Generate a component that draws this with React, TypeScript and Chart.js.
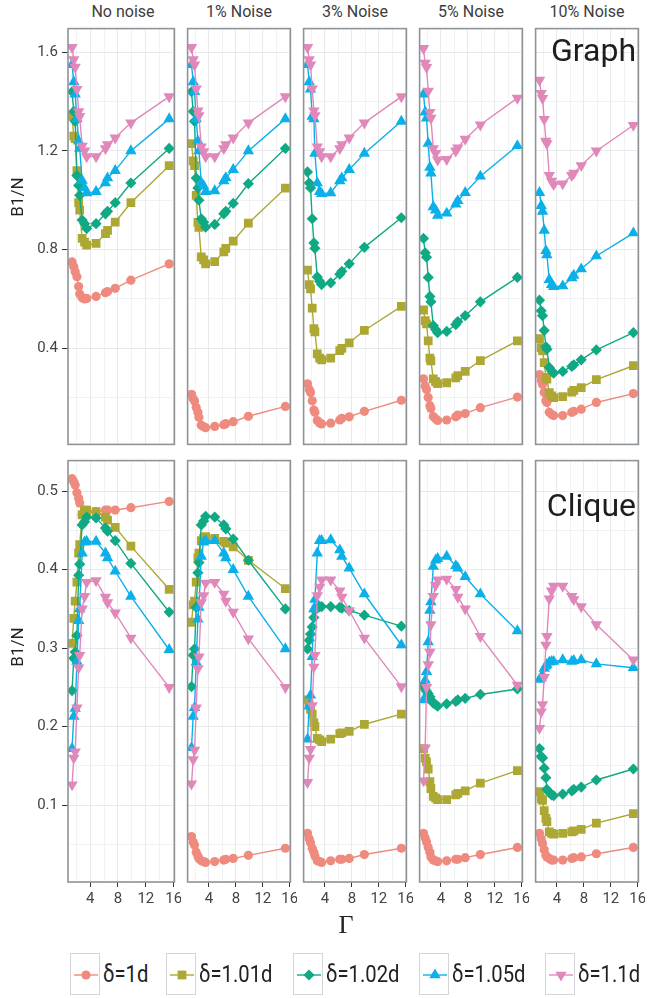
import React, { useEffect, useRef } from 'react';
import { Chart, registerables } from 'chart.js';

Chart.register(...registerables);

// Γ values shared by every curve
const GAMMA = [1.4, 1.65, 1.85, 2.1, 2.35, 2.5, 2.85, 3.2, 3.5, 4.85, 6.2, 6.5, 7.6, 9.85, 15.35];

const NOISE_LABELS = ['No noise', '1% Noise', '3% Noise', '5% Noise', '10% Noise'];
const SERIES_LABELS = ['δ=1d', 'δ=1.01d', 'δ=1.02d', 'δ=1.05d', 'δ=1.1d'];
const SERIES_COLORS = ['#EF8A7E', '#ADA833', '#10A984', '#0CB0E8', '#E188BB'];
const ROW_NAMES = ['Graph', 'Clique'];

// Graph model: each δ holds one curve per noise level (No noise, 1%, 3%, 5%, 10%)
const GRAPH_DELTA_1 = [
  [0.75, 0.73, 0.71, 0.69, 0.65, 0.62, 0.605, 0.6, 0.602, 0.61, 0.625, 0.63, 0.643, 0.676, 0.742],
  [0.213, 0.195, 0.186, 0.16, 0.14, 0.12, 0.088, 0.082, 0.078, 0.083, 0.09, 0.094, 0.102, 0.124, 0.164],
  [0.256, 0.233, 0.22, 0.187, 0.149, 0.14, 0.107, 0.097, 0.093, 0.096, 0.109, 0.116, 0.122, 0.144, 0.189],
  [0.276, 0.247, 0.233, 0.2, 0.167, 0.156, 0.123, 0.114, 0.107, 0.109, 0.122, 0.129, 0.135, 0.159, 0.202],
  [0.293, 0.269, 0.253, 0.22, 0.187, 0.18, 0.14, 0.131, 0.127, 0.127, 0.14, 0.144, 0.153, 0.18, 0.216],
];
const GRAPH_DELTA_101 = [
  [1.34, 1.26, 1.25, 1.12, 0.99, 0.96, 0.845, 0.83, 0.818, 0.825, 0.865, 0.878, 0.911, 0.99, 1.14],
  [1.23, 1.16, 1.14, 1.02, 0.91, 0.89, 0.77, 0.758, 0.742, 0.751, 0.791, 0.805, 0.834, 0.907, 1.049],
  [0.717, 0.658, 0.641, 0.563, 0.479, 0.466, 0.377, 0.36, 0.353, 0.36, 0.39, 0.399, 0.422, 0.472, 0.57],
  [0.555, 0.512, 0.499, 0.43, 0.36, 0.349, 0.276, 0.264, 0.256, 0.26, 0.28, 0.289, 0.306, 0.35, 0.43],
  [0.439, 0.402, 0.389, 0.342, 0.282, 0.275, 0.22, 0.207, 0.2, 0.204, 0.222, 0.229, 0.24, 0.273, 0.329],
];
const GRAPH_DELTA_102 = [
  [1.44, 1.36, 1.32, 1.1, 1.06, 1.02, 0.92, 0.905, 0.885, 0.905, 0.945, 0.955, 0.99, 1.07, 1.21],
  [1.44, 1.36, 1.32, 1.09, 1.05, 1.0, 0.925, 0.911, 0.891, 0.902, 0.945, 0.955, 0.987, 1.067, 1.21],
  [1.115, 1.07, 1.05, 0.925, 0.827, 0.805, 0.689, 0.672, 0.658, 0.665, 0.7, 0.712, 0.742, 0.809, 0.929],
  [0.845, 0.787, 0.769, 0.687, 0.61, 0.588, 0.492, 0.476, 0.463, 0.468, 0.496, 0.508, 0.532, 0.588, 0.687],
  [0.595, 0.552, 0.532, 0.472, 0.406, 0.396, 0.322, 0.308, 0.299, 0.306, 0.326, 0.333, 0.353, 0.393, 0.463],
];
const GRAPH_DELTA_105 = [
  [1.55, 1.48, 1.43, 1.33, 1.24, 1.21, 1.08, 1.05, 1.03, 1.035, 1.07, 1.09, 1.12, 1.2, 1.33],
  [1.55, 1.48, 1.44, 1.33, 1.24, 1.2, 1.071, 1.058, 1.035, 1.038, 1.078, 1.091, 1.124, 1.2, 1.33],
  [1.55, 1.48, 1.45, 1.34, 1.33, 1.19, 1.07, 1.035, 1.027, 1.03, 1.078, 1.09, 1.124, 1.19, 1.32],
  [1.43, 1.357, 1.333, 1.23, 1.133, 1.11, 0.973, 0.96, 0.938, 0.947, 0.984, 0.998, 1.031, 1.097, 1.221],
  [1.031, 0.978, 0.955, 0.878, 0.795, 0.778, 0.678, 0.658, 0.649, 0.652, 0.685, 0.695, 0.721, 0.774, 0.867],
];
const GRAPH_DELTA_110 = [
  [1.62, 1.57, 1.54, 1.45, 1.36, 1.34, 1.22, 1.2, 1.177, 1.177, 1.21, 1.226, 1.253, 1.314, 1.42],
  [1.62, 1.57, 1.549, 1.452, 1.363, 1.343, 1.217, 1.197, 1.177, 1.177, 1.21, 1.226, 1.253, 1.314, 1.42],
  [1.62, 1.57, 1.549, 1.452, 1.363, 1.343, 1.217, 1.197, 1.177, 1.177, 1.21, 1.226, 1.253, 1.314, 1.42],
  [1.616, 1.556, 1.539, 1.443, 1.357, 1.333, 1.21, 1.19, 1.164, 1.166, 1.2, 1.213, 1.248, 1.306, 1.414],
  [1.487, 1.434, 1.413, 1.328, 1.24, 1.23, 1.101, 1.078, 1.064, 1.067, 1.101, 1.11, 1.141, 1.2, 1.304],
];

// Clique model, same layout
const CLIQUE_DELTA_1 = [
  [0.516, 0.512, 0.508, 0.498, 0.491, 0.485, 0.47, 0.471, 0.472, 0.474, 0.476, 0.476, 0.476, 0.479, 0.487],
  [0.06, 0.053, 0.049, 0.04, 0.035, 0.032, 0.029, 0.028, 0.027, 0.028, 0.03, 0.031, 0.032, 0.036, 0.045],
  [0.064, 0.057, 0.052, 0.045, 0.04, 0.035, 0.029, 0.028, 0.027, 0.029, 0.031, 0.031, 0.032, 0.037, 0.045],
  [0.064, 0.058, 0.053, 0.046, 0.04, 0.034, 0.03, 0.029, 0.028, 0.029, 0.031, 0.031, 0.033, 0.037, 0.046],
  [0.064, 0.057, 0.051, 0.043, 0.036, 0.034, 0.032, 0.03, 0.03, 0.03, 0.032, 0.033, 0.034, 0.038, 0.046],
];
const CLIQUE_DELTA_101 = [
  [0.306, 0.338, 0.36, 0.384, 0.421, 0.432, 0.47, 0.476, 0.476, 0.474, 0.467, 0.463, 0.454, 0.43, 0.375],
  [0.333, 0.355, 0.36, 0.384, 0.415, 0.421, 0.437, 0.44, 0.442, 0.44, 0.436, 0.434, 0.429, 0.412, 0.376],
  [0.234, 0.228, 0.222, 0.216, 0.205, 0.2, 0.185, 0.183, 0.181, 0.184, 0.191, 0.192, 0.194, 0.203, 0.216],
  [0.172, 0.16, 0.155, 0.146, 0.13, 0.121, 0.111, 0.109, 0.107, 0.107, 0.113, 0.115, 0.118, 0.128, 0.144],
  [0.117, 0.108, 0.106, 0.093, 0.083, 0.079, 0.066, 0.064, 0.063, 0.064, 0.066, 0.067, 0.069, 0.077, 0.089],
];
const CLIQUE_DELTA_102 = [
  [0.246, 0.287, 0.295, 0.316, 0.393, 0.407, 0.457, 0.461, 0.467, 0.466, 0.453, 0.449, 0.437, 0.408, 0.346],
  [0.251, 0.291, 0.299, 0.352, 0.396, 0.409, 0.457, 0.462, 0.468, 0.467, 0.457, 0.452, 0.439, 0.412, 0.35],
  [0.299, 0.31, 0.318, 0.327, 0.339, 0.348, 0.352, 0.353, 0.353, 0.353, 0.352, 0.351, 0.348, 0.342, 0.328],
  [0.253, 0.248, 0.245, 0.242, 0.238, 0.234, 0.23, 0.228, 0.226, 0.229, 0.232, 0.234, 0.236, 0.241, 0.248],
  [0.172, 0.162, 0.16, 0.147, 0.135, 0.12, 0.116, 0.113, 0.112, 0.114, 0.118, 0.12, 0.123, 0.132, 0.146],
];
const CLIQUE_DELTA_105 = [
  [0.172, 0.213, 0.223, 0.283, 0.335, 0.35, 0.421, 0.435, 0.436, 0.436, 0.421, 0.415, 0.398, 0.366, 0.298],
  [0.173, 0.213, 0.224, 0.282, 0.337, 0.352, 0.417, 0.435, 0.437, 0.437, 0.421, 0.415, 0.4, 0.366, 0.299],
  [0.184, 0.226, 0.24, 0.289, 0.35, 0.362, 0.421, 0.437, 0.437, 0.438, 0.425, 0.417, 0.402, 0.369, 0.304],
  [0.234, 0.259, 0.27, 0.308, 0.348, 0.359, 0.404, 0.412, 0.414, 0.417, 0.405, 0.402, 0.391, 0.369, 0.322],
  [0.26, 0.262, 0.266, 0.274, 0.277, 0.279, 0.282, 0.283, 0.283, 0.285, 0.283, 0.284, 0.285, 0.28, 0.275],
];
const CLIQUE_DELTA_110 = [
  [0.126, 0.16, 0.168, 0.224, 0.275, 0.291, 0.35, 0.366, 0.384, 0.386, 0.365, 0.358, 0.345, 0.313, 0.25],
  [0.127, 0.158, 0.17, 0.224, 0.274, 0.289, 0.358, 0.367, 0.383, 0.384, 0.369, 0.36, 0.346, 0.312, 0.25],
  [0.129, 0.16, 0.171, 0.227, 0.276, 0.291, 0.367, 0.378, 0.387, 0.387, 0.373, 0.365, 0.348, 0.313, 0.251],
  [0.131, 0.173, 0.25, 0.279, 0.295, 0.33, 0.366, 0.38, 0.387, 0.388, 0.375, 0.365, 0.35, 0.315, 0.253],
  [0.198, 0.219, 0.228, 0.263, 0.304, 0.315, 0.363, 0.373, 0.379, 0.379, 0.366, 0.362, 0.353, 0.33, 0.285],
];

const GRAPH_SERIES = [GRAPH_DELTA_1, GRAPH_DELTA_101, GRAPH_DELTA_102, GRAPH_DELTA_105, GRAPH_DELTA_110];
const CLIQUE_SERIES = [CLIQUE_DELTA_1, CLIQUE_DELTA_101, CLIQUE_DELTA_102, CLIQUE_DELTA_105, CLIQUE_DELTA_110];

// Axis ticks: all values get a grid line, the labelled ones get a label and a tick mark
const X_TICKS = [2, 4, 6, 8, 10, 12, 14, 16];
const X_LABELLED = [4, 8, 12, 16];
const X_RANGE = [0.82, 16.1];
const GRAPH_Y_TICKS = [0.2, 0.4, 0.6, 0.8, 1.0, 1.2, 1.4, 1.6];
const GRAPH_Y_LABELLED = [0.4, 0.8, 1.2, 1.6];
const GRAPH_Y_RANGE = [0.01, 1.696];
const CLIQUE_Y_TICKS = [0.05, 0.1, 0.15, 0.2, 0.25, 0.3, 0.35, 0.4, 0.45, 0.5];
const CLIQUE_Y_LABELLED = [0.1, 0.2, 0.3, 0.4, 0.5];
const CLIQUE_Y_RANGE = [0.002, 0.539];

// marker look per δ
const POINT_STYLES = ['circle', 'rect', 'rectRot', 'triangle', 'triangle'];
const POINT_ROTATIONS = [0, 0, 0, 0, 180];
const POINT_RADII = [4.6, 6.2, 5.6, 6.6, 6.6];

// page geometry
const COL_LEFT = [68, 184, 300, 416, 532];
const PANEL_W = 110;
const ROW_TOP = [25, 457];
const ROW_H = [423, 425];
const Y_AXIS_W = 68;
const X_AXIS_H = 32;
const EDGE = 3;

const FONT = "Roboto, 'Noto Sans', sans-serif";
const TICK_COLOR = '#444444';
const GRID_COLOR = '#e7e9ec';
const FRAME_COLOR = '#8e9398';

const isIn = (list: number[], v: number) => list.some((t) => Math.abs(t - v) < 1e-9);

// axis boxes get a fixed size and no extra label padding, so every panel lines up
const fixBox = (size: number, horizontal: boolean) => (s: any) => {
  if (horizontal) s.height = size;
  else s.width = size;
  s.paddingLeft = 0;
  s.paddingRight = 0;
  s.paddingTop = 0;
  s.paddingBottom = 0;
};

const framePlugin = {
  id: 'panelFrame',
  afterDraw(chart: any) {
    const { ctx, chartArea } = chart;
    ctx.save();
    ctx.strokeStyle = FRAME_COLOR;
    ctx.lineWidth = 1.6;
    ctx.strokeRect(chartArea.left, chartArea.top, chartArea.right - chartArea.left, chartArea.bottom - chartArea.top);
    ctx.restore();
  },
};

function Panel({ row, col }: { row: number; col: number }) {
  const ref = useRef<HTMLCanvasElement>(null);
  const padL = col === 0 ? Y_AXIS_W : EDGE;
  const padB = row === 1 ? X_AXIS_H : EDGE;
  const cw = PANEL_W + padL + EDGE;
  const ch = ROW_H[row] + EDGE + padB;

  useEffect(() => {
    const series = row === 0 ? GRAPH_SERIES : CLIQUE_SERIES;
    const yTicks = row === 0 ? GRAPH_Y_TICKS : CLIQUE_Y_TICKS;
    const yLabelled = row === 0 ? GRAPH_Y_LABELLED : CLIQUE_Y_LABELLED;
    const yRange = row === 0 ? GRAPH_Y_RANGE : CLIQUE_Y_RANGE;
    const showY = col === 0;
    const showX = row === 1;

    const chart = new Chart(ref.current as HTMLCanvasElement, {
      type: 'line',
      data: {
        datasets: series.map((s, i) => ({
          label: SERIES_LABELS[i],
          data: GAMMA.map((g, k) => ({ x: g, y: s[col][k] })),
          borderColor: SERIES_COLORS[i],
          backgroundColor: SERIES_COLORS[i],
          borderWidth: 1.4,
          pointStyle: POINT_STYLES[i] as any,
          pointRotation: POINT_ROTATIONS[i],
          pointRadius: POINT_RADII[i],
          pointBorderWidth: 0,
          pointBackgroundColor: SERIES_COLORS[i],
          tension: 0,
          order: 4 - i,
        })),
      },
      options: {
        animation: false,
        responsive: false,
        maintainAspectRatio: false,
        devicePixelRatio: 1,
        events: [],
        layout: {
          padding: { left: showY ? 0 : EDGE, right: EDGE, top: EDGE, bottom: showX ? 0 : EDGE },
        },
        plugins: { legend: { display: false }, tooltip: { enabled: false } },
        scales: {
          x: {
            type: 'linear',
            min: X_RANGE[0],
            max: X_RANGE[1],
            afterBuildTicks: (s: any) => {
              s.ticks = X_TICKS.map((v) => ({ value: v }));
            },
            afterFit: fixBox(showX ? X_AXIS_H : 0, true),
            border: { display: false },
            grid: {
              color: GRID_COLOR,
              lineWidth: (c: any) => (isIn(X_LABELLED, c.tick?.value) ? 1 : 0.6),
              drawTicks: showX,
              tickLength: 5,
              tickColor: (c: any) => (isIn(X_LABELLED, c.tick?.value) ? '#333333' : 'rgba(0,0,0,0)'),
              tickWidth: 1,
            },
            ticks: {
              display: showX,
              autoSkip: false,
              maxRotation: 0,
              padding: 3,
              color: TICK_COLOR,
              font: { family: FONT, size: 15 },
              callback: (v: any) => (isIn(X_LABELLED, Number(v)) ? String(v) : ''),
            },
          },
          y: {
            type: 'linear',
            min: yRange[0],
            max: yRange[1],
            afterBuildTicks: (s: any) => {
              s.ticks = yTicks.map((v) => ({ value: v }));
            },
            afterFit: fixBox(showY ? Y_AXIS_W : 0, false),
            border: { display: false },
            grid: {
              color: GRID_COLOR,
              lineWidth: (c: any) => (isIn(yLabelled, c.tick?.value) ? 1 : 0.6),
              drawTicks: showY,
              tickLength: 6,
              tickColor: (c: any) => (isIn(yLabelled, c.tick?.value) ? '#333333' : 'rgba(0,0,0,0)'),
              tickWidth: 1,
            },
            ticks: {
              display: showY,
              autoSkip: false,
              padding: 4,
              color: TICK_COLOR,
              font: { family: FONT, size: 15 },
              callback: (v: any) => (isIn(yLabelled, Number(v)) ? Number(v).toFixed(1) : ''),
            },
          },
        },
      } as any,
      plugins: [framePlugin],
    });
    return () => chart.destroy();
  }, [row, col]);

  return (
    <canvas
      ref={ref}
      width={cw}
      height={ch}
      style={{ position: 'absolute', left: COL_LEFT[col] - padL, top: ROW_TOP[row] - EDGE, width: cw, height: ch }}
    />
  );
}

function LegendKey({ index }: { index: number }) {
  const c = SERIES_COLORS[index];
  const cx = 15;
  const cy = 21;
  let marker: React.ReactNode = null;
  if (index === 0) marker = <circle cx={cx} cy={cy} r={4.6} fill={c} />;
  if (index === 1) marker = <rect x={cx - 4.4} y={cy - 4.4} width={8.8} height={8.8} fill={c} />;
  if (index === 2) marker = <polygon points={`${cx},${cy - 5.6} ${cx + 5.6},${cy} ${cx},${cy + 5.6} ${cx - 5.6},${cy}`} fill={c} />;
  if (index === 3) marker = <polygon points={`${cx},${cy - 6.6} ${cx + 5.7},${cy + 3.3} ${cx - 5.7},${cy + 3.3}`} fill={c} />;
  if (index === 4) marker = <polygon points={`${cx},${cy + 6.6} ${cx + 5.7},${cy - 3.3} ${cx - 5.7},${cy - 3.3}`} fill={c} />;
  return (
    <svg width={30} height={42} style={{ display: 'block', border: '1px solid #d3d5d8', boxSizing: 'border-box' }}>
      <line x1={3} x2={27} y1={cy} y2={cy} stroke={c} strokeWidth={1.4} />
      {marker}
    </svg>
  );
}

const LEGEND_LEFT = [70, 166, 293, 419, 545];

export default function App() {
  const cells: React.ReactNode[] = [];
  for (let r = 0; r < 2; r++) for (let c = 0; c < 5; c++) cells.push(<Panel key={`${r}-${c}`} row={r} col={c} />);

  return (
    <div style={{ position: 'absolute', left: 0, top: 0, width: 650, height: 998, background: '#ffffff', fontFamily: FONT }}>
      {NOISE_LABELS.map((t, i) => (
        <div
          key={t}
          style={{ position: 'absolute', left: COL_LEFT[i], top: 4, width: PANEL_W, textAlign: 'center', fontSize: 16, lineHeight: '16px', color: '#3d3d3d' }}
        >
          {t}
        </div>
      ))}
      {cells}
      {ROW_NAMES.map((t, i) => (
        <div
          key={t}
          style={{ position: 'absolute', left: COL_LEFT[4], top: i === 0 ? 34 : 489, width: 104, textAlign: 'right', fontSize: 32, lineHeight: '32px', color: '#1e1e1e' }}
        >
          {t}
        </div>
      ))}
      {[197, 647].map((cy) => (
        <div
          key={cy}
          style={{ position: 'absolute', left: 17, top: cy, transform: 'translate(-50%, -50%) rotate(-90deg)', fontSize: 17, lineHeight: '17px', color: '#222', whiteSpace: 'nowrap' }}
        >
          B1/N
        </div>
      ))}
      <div
        style={{ position: 'absolute', left: 346, top: 925, transform: 'translate(-50%, -50%)', fontSize: 26, lineHeight: '26px', color: '#222', fontFamily: "'Liberation Serif', 'DejaVu Serif', serif" }}
      >
        Γ
      </div>
      {SERIES_LABELS.map((t, i) => (
        <div key={t} style={{ position: 'absolute', left: LEGEND_LEFT[i], top: 953, display: 'flex', alignItems: 'center' }}>
          <LegendKey index={i} />
          <span
            style={{ marginLeft: 3, fontSize: 23, lineHeight: '23px', color: '#222', whiteSpace: 'nowrap', display: 'inline-block', transform: 'scaleX(0.88)', transformOrigin: 'left center' }}
          >
            {t}
          </span>
        </div>
      ))}
    </div>
  );
}
